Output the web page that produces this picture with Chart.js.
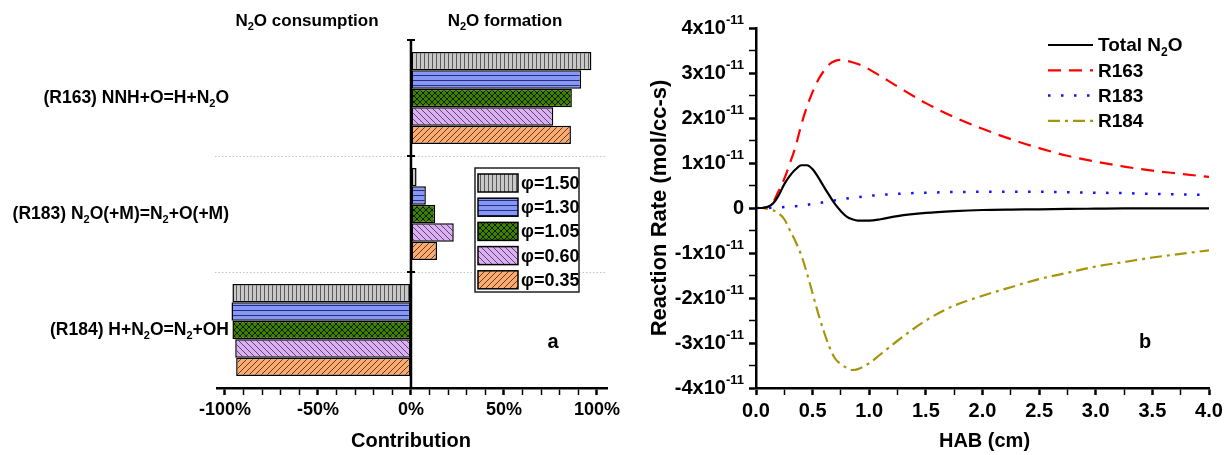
<!DOCTYPE html>
<html><head><meta charset="utf-8">
<script src="https://cdn.jsdelivr.net/npm/chart.js@4.4.1/dist/chart.umd.min.js"></script>
<style>
html,body{margin:0;padding:0;background:#fff;}
#wrap{position:relative;width:1226px;height:455px;overflow:hidden;background:#fff;}
#c1{position:absolute;left:0;top:0;}
#c2{position:absolute;left:620px;top:0;}
</style></head><body>
<div id="wrap"><canvas id="c1" width="620" height="455"></canvas><canvas id="c2" width="606" height="455"></canvas></div>
<script>
// ---------- Panel a data (fraction of contribution, 1 = 100%) ----------
const reactions = ['(R163) NNH+O=H+N_2O', '(R183) N_2O(+M)=N_2+O(+M)', '(R184) H+N_2O=N_2+OH'];
const phiLabels = ['φ=1.50', 'φ=1.30', 'φ=1.05', 'φ=0.60', 'φ=0.35'];
const phi150 = [0.97, 0.03, -0.96];
const phi130 = [0.915, 0.08, -0.965];
const phi105 = [0.865, 0.13, -0.96];
const phi060 = [0.765, 0.23, -0.945];
const phi035 = [0.86, 0.14, -0.94];
const contribTickValues = [-1, -0.5, 0, 0.5, 1];
const contribTickLabels = ['-100%', '-50%', '0%', '50%', '100%'];

// ---------- Panel b data (reaction rate in units of 1e-11 mol/cc-s) ----------
const hab = [0, 0.05, 0.1, 0.15, 0.2, 0.25, 0.3, 0.35, 0.4, 0.45, 0.5, 0.55, 0.6, 0.65, 0.7, 0.75, 0.8, 0.85, 0.9, 1.0, 1.1, 1.25, 1.5, 1.75, 2.0, 2.25, 2.5, 2.75, 3.0, 3.25, 3.5, 3.75, 4.0];
const totalN2O = [0, 0, 0.02, 0.1, 0.28, 0.53, 0.72, 0.86, 0.95, 0.95, 0.86, 0.68, 0.47, 0.27, 0.08, -0.07, -0.19, -0.25, -0.28, -0.28, -0.25, -0.18, -0.11, -0.07, -0.045, -0.035, -0.03, -0.02, -0.015, -0.01, -0.01, -0.01, -0.01];
const r163 = [0, 0, 0.02, 0.12, 0.38, 0.65, 1.0, 1.37, 1.85, 2.25, 2.58, 2.85, 3.05, 3.2, 3.27, 3.29, 3.27, 3.24, 3.2, 3.08, 2.93, 2.7, 2.33, 2.02, 1.76, 1.53, 1.33, 1.16, 1.03, 0.92, 0.83, 0.76, 0.69];
const r183 = [0, 0, 0, 0.005, 0.01, 0.02, 0.03, 0.04, 0.05, 0.07, 0.09, 0.11, 0.13, 0.15, 0.17, 0.19, 0.21, 0.23, 0.24, 0.27, 0.29, 0.315, 0.34, 0.355, 0.36, 0.36, 0.36, 0.35, 0.34, 0.33, 0.315, 0.3, 0.29];
const r184 = [0, 0, -0.02, -0.05, -0.12, -0.25, -0.5, -0.75, -1.05, -1.45, -1.9, -2.35, -2.75, -3.1, -3.35, -3.47, -3.55, -3.6, -3.58, -3.45, -3.25, -2.95, -2.5, -2.17, -1.95, -1.76, -1.58, -1.44, -1.3, -1.2, -1.1, -1.02, -0.94];
const rateTickValues = [-4, -3, -2, -1, 0, 1, 2, 3, 4];
const rateTickLabels = ['-4x10^{-11}', '-3x10^{-11}', '-2x10^{-11}', '-1x10^{-11}', '0', '1x10^{-11}', '2x10^{-11}', '3x10^{-11}', '4x10^{-11}'];
const habTickValues = [0, 0.5, 1, 1.5, 2, 2.5, 3, 3.5, 4];
const habTickLabels = ['0.0', '0.5', '1.0', '1.5', '2.0', '2.5', '3.0', '3.5', '4.0'];
const lineLabels = ['Total N_2O', 'R163', 'R183', 'R184'];

// ---------- helpers ----------
const FAM = '"Liberation Sans", Arial, Helvetica, sans-serif';
function parseRich(s) {
  const segs = []; let i = 0, buf = '';
  while (i < s.length) {
    const c = s[i];
    if (c === '_' || c === '^') {
      if (buf) { segs.push({ t: buf, k: 0 }); buf = ''; }
      let t;
      if (s[i + 1] === '{') { const j = s.indexOf('}', i); t = s.slice(i + 2, j); i = j + 1; }
      else { t = s[i + 1]; i += 2; }
      segs.push({ t, k: c === '_' ? 1 : 2 });
    } else { buf += c; i++; }
  }
  if (buf) segs.push({ t: buf, k: 0 });
  return segs;
}
function drawRich(ctx, s, x, y, size, align, color) {
  const segs = parseRich(s);
  const small = Math.round(size * 0.64);
  const font = sz => `bold ${sz}px ${FAM}`;
  let w = 0;
  segs.forEach(g => { ctx.font = font(g.k ? small : size); g.w = ctx.measureText(g.t).width; w += g.w; });
  let cx = align === 'right' ? x - w : align === 'center' ? x - w / 2 : x;
  ctx.textBaseline = 'middle'; ctx.textAlign = 'left'; ctx.fillStyle = color || '#000';
  segs.forEach(g => {
    ctx.font = font(g.k ? small : size);
    const dy = g.k === 1 ? size * 0.33 : g.k === 2 ? -size * 0.36 : 0;
    ctx.fillText(g.t, cx, y + dy);
    cx += g.w;
  });
}
function makePattern(bg, line, kind) {
  const s = kind === 'v' ? 4 : kind === 'h' ? 5 : 6;
  const c = document.createElement('canvas'); c.width = s; c.height = s;
  const g = c.getContext('2d');
  g.fillStyle = bg; g.fillRect(0, 0, s, s);
  g.strokeStyle = line; g.lineWidth = 1;
  g.beginPath();
  if (kind === 'v') { g.moveTo(0.5, 0); g.lineTo(0.5, s); }
  if (kind === 'h') { g.moveTo(0, 0.5); g.lineTo(s, 0.5); }
  if (kind === 'f' || kind === 'x') { g.moveTo(-1, s + 1); g.lineTo(s + 1, -1); g.moveTo(-1, 1); g.lineTo(1, -1); g.moveTo(s - 1, s + 1); g.lineTo(s + 1, s - 1); }
  if (kind === 'b' || kind === 'x') { g.moveTo(-1, -1); g.lineTo(s + 1, s + 1); g.moveTo(s - 1, -1); g.lineTo(s + 1, 1); g.moveTo(-1, s - 1); g.lineTo(1, s + 1); }
  g.stroke();
  return g.createPattern(c, 'repeat');
}
const ctx1 = document.getElementById('c1').getContext('2d');
const fills = [
  makePattern('#c8c8c8', '#5a5a5a', 'v'),
  makePattern('#8797f5', '#26307a', 'h'),
  makePattern('#3f8000', '#0d1e00', 'x'),
  makePattern('#dcaef5', '#5a4a66', 'b'),
  makePattern('#f9ab72', '#6a3a18', 'f')
];
const seriesA = [phi150, phi130, phi105, phi060, phi035];

// ---------- Panel a ----------
const decorA = {
  id: 'decorA',
  beforeDatasetsDraw(chart) {
    const { ctx, chartArea: a } = chart;
    const n = chart.data.labels.length, step = (a.bottom - a.top) / n;
    ctx.save();
    ctx.strokeStyle = '#c4c4c4'; ctx.lineWidth = 1; ctx.setLineDash([1.5, 2]);
    for (let i = 1; i < n; i++) {
      const yy = Math.round(a.top + i * step) + 0.5;
      ctx.beginPath(); ctx.moveTo(a.left - 2, yy); ctx.lineTo(a.right, yy); ctx.stroke();
    }
    ctx.restore();
  },
  afterDatasetsDraw(chart) {
    const { ctx, chartArea: a, scales: { x, y } } = chart;
    const n = chart.data.labels.length, step = (a.bottom - a.top) / n;
    const x0 = x.getPixelForValue(0);
    ctx.save();
    ctx.strokeStyle = '#000'; ctx.lineWidth = 2.5;
    ctx.beginPath(); ctx.moveTo(x0, a.top - 1); ctx.lineTo(x0, a.bottom); ctx.stroke();
    ctx.lineWidth = 2;
    for (let i = 0; i < n; i++) {
      const yy = a.top + i * step;
      ctx.beginPath(); ctx.moveTo(x0 - 4, yy); ctx.lineTo(x0 + 4, yy); ctx.stroke();
    }
    chart.data.labels.forEach((lab, i) => drawRich(ctx, lab, a.left + 12, y.getPixelForValue(i), 17.5, 'right'));
    drawRich(ctx, 'N_2O consumption', 307, 21, 17, 'center');
    drawRich(ctx, 'N_2O formation', 505, 21, 17, 'center');
    drawRich(ctx, 'Contribution', x0, 441, 20, 'center');
    const bx = 475, by = 168, bw = 104, bh = 124;
    ctx.fillStyle = '#fff'; ctx.fillRect(bx, by, bw, bh);
    ctx.strokeStyle = '#222'; ctx.lineWidth = 1.5; ctx.strokeRect(bx, by, bw, bh);
    chart.data.datasets.forEach((ds, i) => {
      const cy = 183 + i * 24.2;
      ctx.fillStyle = ds.backgroundColor; ctx.fillRect(478, cy - 9, 40, 18);
      ctx.strokeStyle = '#000'; ctx.lineWidth = 1.5; ctx.strokeRect(478, cy - 9, 40, 18);
      drawRich(ctx, ds.label, 521, cy + 1, 18, 'left');
    });
    drawRich(ctx, 'a', 553, 342, 20, 'center');
    ctx.restore();
  }
};

new Chart(ctx1, {
  type: 'bar',
  data: {
    labels: reactions,
    datasets: seriesA.map((d, i) => ({
      label: phiLabels[i], data: d, backgroundColor: fills[i],
      borderColor: '#000', borderWidth: 1.5, borderSkipped: false,
      categoryPercentage: 0.795, barPercentage: 1
    }))
  },
  options: {
    indexAxis: 'y', responsive: false, animation: false, devicePixelRatio: 1,
    layout: { padding: { left: 217, right: 13, top: 40, bottom: 0 } },
    plugins: { legend: { display: false }, tooltip: { enabled: false } },
    scales: {
      y: { type: 'category', display: false },
      x: {
        type: 'linear', min: -1.043, max: 1.054, position: 'bottom',
        afterFit: s => { s.height = 67; s.paddingLeft = 0; s.paddingRight = 0; },
        border: { display: true, color: '#000', width: 2.5 },
        grid: { drawOnChartArea: false, drawTicks: true, tickLength: 7, tickColor: '#000',
          tickWidth: c => (contribTickValues.some(v => Math.abs(v - c.tick.value) < 1e-6) ? 2.5 : 1.5) },
        ticks: {
          stepSize: 0.1, includeBounds: false, autoSkip: false, maxRotation: 0, padding: 4,
          color: '#000', font: { family: FAM, size: 18, weight: 'bold' },
          callback: v => { const k = contribTickValues.findIndex(t => Math.abs(t - v) < 1e-6); return k >= 0 ? contribTickLabels[k] : ''; }
        }
      }
    }
  },
  plugins: [decorA]
});

// ---------- Panel b ----------
const ctx2 = document.getElementById('c2').getContext('2d');
const seriesB = [totalN2O, r163, r183, r184];
const styleB = [
  { borderColor: '#000000', borderDash: [], borderWidth: 2.2 },
  { borderColor: '#ff0000', borderDash: [13, 8], borderWidth: 2.2 },
  { borderColor: '#1010ff', borderDash: [2.5, 10.5], borderWidth: 2.5 },
  { borderColor: '#a8940a', borderDash: [12, 5, 3, 5], borderWidth: 2.2 }
];
const decorB = {
  id: 'decorB',
  afterDraw(chart) {
    const { ctx, chartArea: a, scales: { y } } = chart;
    ctx.save();
    rateTickValues.forEach((v, i) => drawRich(ctx, rateTickLabels[i], a.left - 12, y.getPixelForValue(v), 20, 'right'));
    ctx.save(); ctx.translate(40, (a.top + a.bottom) / 2); ctx.rotate(-Math.PI / 2);
    drawRich(ctx, 'Reaction Rate (mol/cc-s)', 0, 0, 22, 'center'); ctx.restore();
    drawRich(ctx, 'HAB (cm)', (a.left + a.right) / 2 + 2, 441, 20, 'center');
    chart.data.datasets.forEach((ds, i) => {
      const cy = 45 + i * 25.3;
      ctx.strokeStyle = ds.borderColor; ctx.lineWidth = ds.borderWidth; ctx.setLineDash(ds.borderDash);
      ctx.beginPath(); ctx.moveTo(428, cy); ctx.lineTo(473, cy); ctx.stroke();
      ctx.setLineDash([]);
      drawRich(ctx, ds.label, 478, cy + 1, 19, 'left');
    });
    drawRich(ctx, 'b', 525, 342, 20, 'center');
    ctx.restore();
  }
};
new Chart(ctx2, {
  type: 'line',
  data: {
    datasets: seriesB.map((d, i) => Object.assign({
      label: lineLabels[i], data: hab.map((h, j) => ({ x: h, y: d[j] })),
      pointRadius: 0, fill: false, cubicInterpolationMode: 'monotone'
    }, styleB[i]))
  },
  options: {
    responsive: false, animation: false, devicePixelRatio: 1,
    layout: { padding: { left: 0, right: 17, top: 28, bottom: 0 } },
    plugins: { legend: { display: false }, tooltip: { enabled: false } },
    scales: {
      x: {
        type: 'linear', min: 0, max: 4, position: 'bottom',
        afterFit: s => { s.height = 67; s.paddingLeft = 0; s.paddingRight = 0; },
        border: { display: true, color: '#000', width: 2.5 },
        grid: { drawOnChartArea: false, drawTicks: true, tickLength: 7, tickColor: '#000',
          tickWidth: c => (habTickValues.some(v => Math.abs(v - c.tick.value) < 1e-6) ? 2.5 : 1.5) },
        ticks: {
          stepSize: 0.25, autoSkip: false, maxRotation: 0, padding: 4,
          color: '#000', font: { family: FAM, size: 20, weight: 'bold' },
          callback: v => { const k = habTickValues.findIndex(t => Math.abs(t - v) < 1e-6); return k >= 0 ? habTickLabels[k] : ''; }
        }
      },
      y: {
        type: 'linear', min: -4, max: 4, position: 'left',
        afterFit: s => { s.width = 136; s.paddingTop = 0; s.paddingBottom = 0; },
        border: { display: true, color: '#000', width: 2.5 },
        grid: { drawOnChartArea: false, drawTicks: true, tickLength: 7, tickColor: '#000',
          tickWidth: c => (Number.isInteger(c.tick.value) ? 2.5 : 1.5) },
        ticks: { stepSize: 0.5, autoSkip: false, callback: () => '', font: { size: 1 } }
      }
    }
  },
  plugins: [decorB]
});
</script>
</body></html>
